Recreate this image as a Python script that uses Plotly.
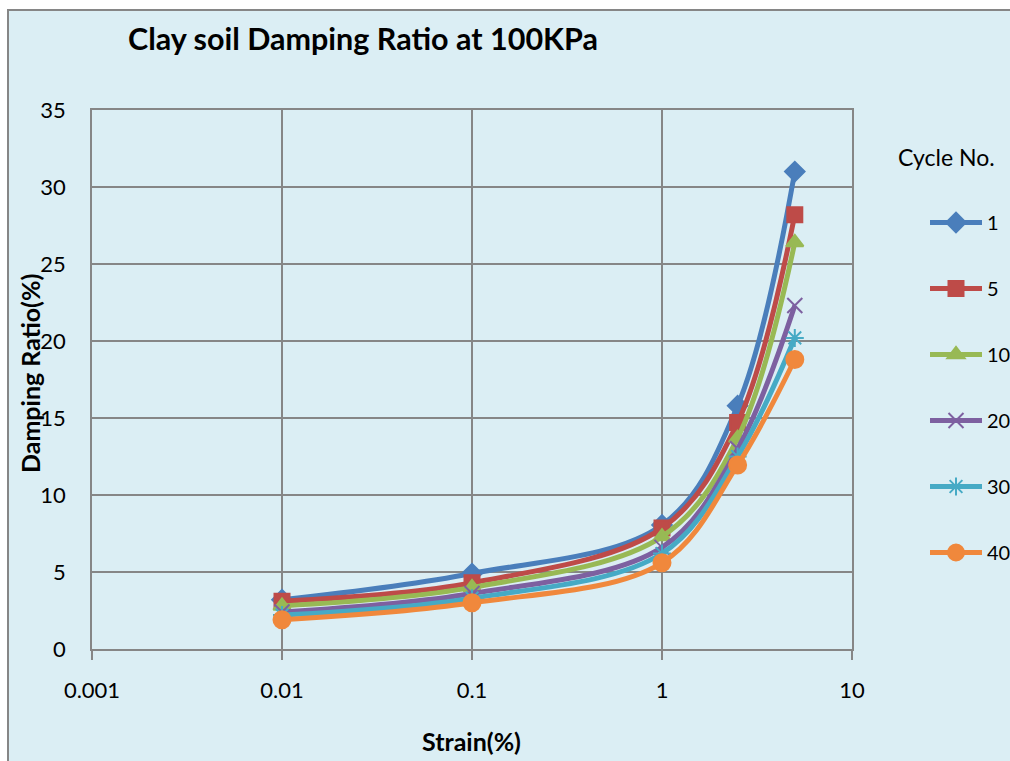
import plotly.graph_objects as go

# Strain values (%) and damping ratio (%) per loading cycle
strain = [0.01, 0.1, 1, 2.5, 5]
cycle_1 = [3.2, 4.9, 8.05, 15.8, 31.0]
cycle_5 = [3.1, 4.3, 7.85, 14.7, 28.2]
cycle_10 = [2.8, 4.0, 7.3, 13.7, 26.4]
cycle_20 = [2.4, 3.6, 6.6, 13.0, 22.3]
cycle_30 = [2.2, 3.3, 6.2, 12.5, 20.2]
cycle_40 = [1.9, 3.0, 5.6, 11.95, 18.8]

cycle_names = ["1", "5", "10", "20", "30", "40"]
series = [cycle_1, cycle_5, cycle_10, cycle_20, cycle_30, cycle_40]

x_ticks = [0.001, 0.01, 0.1, 1, 10]
x_tick_text = ["0.001", "0.01", "0.1", "1", "10"]
y_ticks = [0, 5, 10, 15, 20, 25, 30, 35]

line_colors = ["#4A7EBB", "#BE4B48", "#98B954", "#7D60A0", "#46AAC5", "#F0883C"]
symbols = ["diamond", "square", "triangle-up", "x-thin-open", "asterisk-open", "circle"]
sizes = [15, 15, 15, 15, 15, 17]

W, H = 1010, 761
L, R, T, B = 92, 852, 110, 649
FONT = "Lato"


def px(xp):
    return (xp - L) / (R - L)


def py(yp):
    return (B - yp) / (B - T)


fig = go.Figure()
for i, (name, vals) in enumerate(zip(cycle_names, series)):
    fig.add_trace(go.Scatter(
        x=strain, y=vals, name=name, mode="lines+markers",
        legendgroup=name,
        line=dict(color=line_colors[i], width=5, shape="spline", smoothing=1.0),
        marker=dict(symbol=symbols[i], size=sizes[i], color=line_colors[i],
                    line=dict(color=line_colors[i], width=2)),
    ))

fig.update_layout(
    width=W, height=H,
    margin=dict(l=L, r=W - R, t=T, b=H - B, autoexpand=False),
    paper_bgcolor="white",
    plot_bgcolor="white",
    font=dict(family=FONT, size=22, color="black"),
    showlegend=True,
    legend=dict(
        x=px(925), y=py(203), xanchor="left", yanchor="top",
        bgcolor="rgba(0,0,0,0)", font=dict(family=FONT, size=20),
        tracegroupgap=37, itemwidth=52,
    ),
    xaxis=dict(
        type="log", range=[-3, 1], tickvals=x_ticks, ticktext=x_tick_text,
        showgrid=True, gridcolor="#868686", gridwidth=1.5,
        showline=True, linecolor="#868686", linewidth=1.5, mirror=True,
        ticks="outside", ticklen=9, tickcolor="#868686", tickwidth=1.5,
        ticklabelstandoff=12,
        tickfont=dict(family=FONT, size=22), zeroline=False,
    ),
    yaxis=dict(
        range=[0, 35], tickvals=y_ticks,
        showgrid=True, gridcolor="#868686", gridwidth=1.5,
        showline=True, linecolor="#868686", linewidth=1.5, mirror=True,
        ticks="", ticklabelstandoff=20,
        tickfont=dict(family=FONT, size=22), zeroline=False,
    ),
    shapes=[dict(
        type="rect", xref="paper", yref="paper", layer="below",
        x0=px(8), x1=px(1030), y0=py(790), y1=py(10),
        fillcolor="#DBEEF4", line=dict(color="#868686", width=2),
    )],
    annotations=[
        dict(text="<b>Clay soil Damping Ratio at 100KPa</b>", xref="paper", yref="paper",
             x=px(126), y=py(38), xanchor="left", yanchor="middle", showarrow=False,
             font=dict(family=FONT, size=30.5, color="black")),
        dict(text="Cycle No.", xref="paper", yref="paper",
             x=px(896), y=py(157), xanchor="left", yanchor="middle", showarrow=False,
             font=dict(family=FONT, size=23, color="black")),
        dict(text="<b>Strain(%)</b>", xref="paper", yref="paper",
             x=px(471), y=py(741), xanchor="center", yanchor="middle", showarrow=False,
             font=dict(family=FONT, size=25, color="black")),
        dict(text="<b>Damping Ratio(%)</b>", xref="paper", yref="paper",
             x=px(30), y=py(374), xanchor="center", yanchor="middle", showarrow=False,
             textangle=-90, font=dict(family=FONT, size=25, color="black")),
    ],
)

fig.write_html("out.html")
